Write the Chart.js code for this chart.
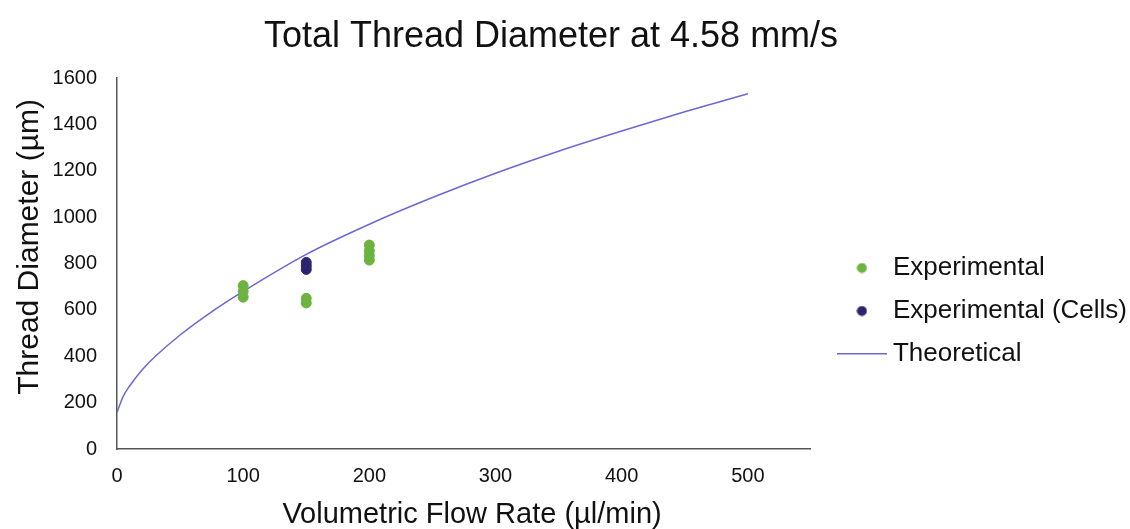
<!DOCTYPE html>
<html>
<head>
<meta charset="utf-8">
<script src="https://cdn.jsdelivr.net/npm/chart.js@4"></script>
<style>
  html, body { margin: 0; padding: 0; background: #fff; }
  #wrap { width: 1130px; height: 529px; }
</style>
</head>
<body>
<div id="wrap"><canvas id="c" width="1130" height="529"></canvas></div>
<script>
// Experimental (no cells)
const expX = [100, 100, 100, 150, 150, 200, 200, 200, 200];
const expY = [655, 680, 705, 630, 650, 815, 835, 855, 880];
// Experimental (cells)
const cellX = [150, 150, 150];
const cellY = [775, 790, 805];
// Theoretical curve
const theoX = [0, 5, 10, 20, 30, 50, 75, 100, 150, 200, 250, 300, 350, 400, 450, 500];
const theoY = [158, 228, 272, 342, 398, 492, 592, 680, 840, 970, 1085, 1190, 1285, 1372, 1455, 1533];
const xTicks = [0, 100, 200, 300, 400, 500];
const yTicks = [0, 200, 400, 600, 800, 1000, 1200, 1400, 1600];

const COLORS = { exp: '#6cb33f', cells: '#2d2470', theo: '#6a68d6' };
const pts = (xs, ys) => xs.map((x, i) => ({ x, y: ys[i] }));
const FONT = "'Liberation Sans', Arial, sans-serif";

function dotImage(color) {
  const c = document.createElement('canvas');
  c.width = 11; c.height = 11;
  const g = c.getContext('2d');
  g.fillStyle = color;
  g.beginPath(); g.arc(5.5, 5.5, 5, 0, Math.PI * 2); g.fill();
  return c;
}
function lineImage(color) {
  const c = document.createElement('canvas');
  c.width = 50; c.height = 2;
  const g = c.getContext('2d');
  g.fillStyle = color;
  g.fillRect(0, 0, 50, 1.5);
  return c;
}
const legendIcons = [dotImage(COLORS.exp), dotImage(COLORS.cells), lineImage(COLORS.theo)];

new Chart(document.getElementById('c'), {
  type: 'scatter',
  data: {
    datasets: [
      {
        label: 'Experimental',
        data: pts(expX, expY),
        backgroundColor: COLORS.exp,
        borderColor: COLORS.exp,
        pointRadius: 5,
        order: 1
      },
      {
        label: 'Experimental (Cells)',
        data: pts(cellX, cellY),
        backgroundColor: COLORS.cells,
        borderColor: COLORS.cells,
        pointRadius: 5,
        order: 0
      },
      {
        label: 'Theoretical',
        data: pts(theoX, theoY),
        showLine: true,
        borderColor: COLORS.theo,
        backgroundColor: COLORS.theo,
        borderWidth: 1.5,
        pointRadius: 0,
        cubicInterpolationMode: 'monotone',
        order: 2
      }
    ]
  },
  options: {
    responsive: false,
    animation: false,
    layout: { padding: { left: 15, right: -7, top: 0, bottom: 0 } },
    plugins: {
      title: {
        display: true,
        text: 'Total Thread Diameter at 4.58 mm/s     ',
        color: '#111',
        font: { family: FONT, size: 36, weight: 'normal' },
        padding: { top: 15, bottom: 20 }
      },
      legend: {
        position: 'right',
        maxWidth: 340,
        title: { display: true, text: '', font: { size: 10 }, padding: 40.5 },
        labels: {
          usePointStyle: true,
          pointStyleWidth: 36,
          color: '#111',
          font: { family: FONT, size: 26 },
          padding: 17,
          sort: (a, b) => a.datasetIndex - b.datasetIndex,
          generateLabels: (chart) => {
            const items = Chart.defaults.plugins.legend.labels.generateLabels(chart);
            items.forEach(it => { it.pointStyle = legendIcons[it.datasetIndex]; });
            return items;
          }
        }
      },
      tooltip: { enabled: false }
    },
    scales: {
      x: {
        type: 'linear',
        min: 0,
        max: 550,
        afterBuildTicks: (s) => { s.ticks = xTicks.map(v => ({ value: v })); },
        afterFit: (s) => { s.height = 80; },
        ticks: { color: '#111', font: { family: FONT, size: 20 }, padding: 15, callback: v => String(v) },
        grid: { display: false, drawTicks: false },
        border: { display: true, color: '#555', width: 1.5 },
        title: {
          display: true,
          text: '  Volumetric Flow Rate (µl/min)',
          color: '#111',
          font: { family: FONT, size: 29, lineHeight: 1 },
          padding: { top: 12, bottom: 0 }
        }
      },
      y: {
        type: 'linear',
        min: 0,
        max: 1600,
        afterBuildTicks: (s) => { s.ticks = yTicks.map(v => ({ value: v })); },
        afterFit: (s) => { s.width = 102; },
        ticks: { color: '#111', font: { family: FONT, size: 20 }, padding: 20, callback: v => String(v) },
        grid: { display: false, drawTicks: false },
        border: { display: true, color: '#555', width: 1.5 },
        title: {
          display: true,
          text: '    Thread Diameter (µm)',
          color: '#111',
          font: { family: FONT, size: 30, lineHeight: 1 },
          padding: { top: 0, bottom: 7 }
        }
      },
      gap: {
        type: 'linear',
        position: 'right',
        display: true,
        grid: { display: false, drawTicks: false },
        border: { display: false },
        ticks: { display: false },
        afterFit: (s) => { s.width = 16; }
      }
    }
  }
});
</script>
</body>
</html>
